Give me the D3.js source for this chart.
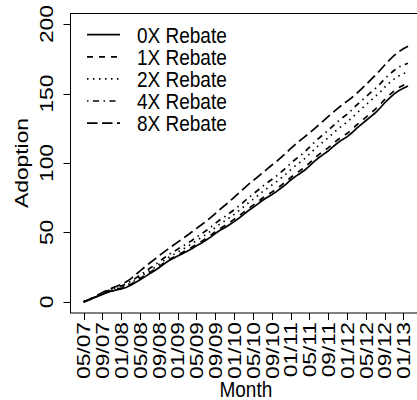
<!DOCTYPE html>
<html><head><meta charset="utf-8">
<script src="https://cdn.jsdelivr.net/npm/d3@7"></script>
<style>body{margin:0;background:#fff}svg{display:block}text{font-family:"Liberation Sans",Arial,sans-serif;fill:#000}</style>
</head><body>
<svg id="c" width="417" height="400"></svg>
<script>
const monthLabels = ["05/07","09/07","01/08","05/08","09/08","01/09","05/09","09/09","01/10","05/10","09/10","01/11","05/11","09/11","01/12","05/12","09/12","01/13"];
const seriesNames = ["0X Rebate","1X Rebate","2X Rebate","4X Rebate","8X Rebate"];
const yTicks = [0,50,100,150,200];
const rebate0 = [0,1.2,2.6,4.0,5.4,6.8,7.8,8.6,9.4,10.4,12.0,14.0,16.0,18.0,20.2,22.2,24.6,27.0,29.4,31.2,33.0,34.6,36.4,38.2,40.4,42.2,44.4,46.6,49.2,51.6,53.4,55.6,57.8,60.2,62.8,65.6,68.0,70.4,73.0,75.2,77.2,79.4,82.0,84.6,87.6,90.2,92.4,94.8,97.8,101.0,103.8,106.2,108.6,111.6,114.4,116.8,118.8,121.6,124.8,127.6,130.4,133.2,136.0,139.4,143.2,146.6,149.6,152.0,153.8,155.4];
const rebate1 = [0,1.3,2.7,4.2,5.6,7.0,8.1,9.0,9.9,11.0,12.6,14.6,16.8,18.9,21.0,23.1,25.4,27.9,30.2,32.0,33.9,35.6,37.4,39.3,41.5,43.4,45.6,47.9,50.5,52.8,54.8,57.1,59.4,61.8,64.4,67.1,69.5,72.0,74.6,76.9,79.0,81.2,83.9,86.5,89.4,92.1,94.4,96.9,99.9,103.1,106.0,108.4,110.9,113.8,116.6,119.0,121.2,124.0,127.2,130.0,132.9,135.7,138.6,141.9,145.6,148.9,151.8,154.2,156.0,157.6];
const rebate2 = [0,1.3,2.8,4.4,5.9,7.4,8.6,9.6,10.6,11.8,13.5,15.6,17.9,20.1,22.4,24.6,27.0,29.5,31.9,33.9,35.9,37.8,39.7,41.8,44.1,46.2,48.5,50.9,53.6,56.1,58.2,60.6,63.0,65.6,68.3,71.2,73.8,76.4,79.2,81.7,84.0,86.4,89.2,92.0,95.0,97.9,100.4,103.1,106.3,109.6,112.7,115.4,118.1,121.2,124.2,126.9,129.3,132.3,135.6,138.6,141.7,144.7,147.8,150.8,154.4,157.6,160.4,162.6,164.3,165.5];
const rebate4 = [0,1.4,3.0,4.7,6.3,7.9,9.2,10.3,11.5,12.9,14.7,16.9,19.3,21.6,24.0,26.3,28.8,31.4,33.8,35.9,38.0,40.0,42.0,44.2,46.6,48.8,51.2,53.7,56.5,59.1,61.3,63.8,66.3,69.0,71.8,74.8,77.5,80.2,83.1,85.7,88.1,90.6,93.5,96.4,99.5,102.5,105.1,107.9,111.2,114.6,117.8,120.6,123.4,126.6,129.7,132.5,135.0,138.1,141.5,144.6,147.6,150.6,153.5,156.8,160.4,163.6,166.6,169.0,170.6,171.8];
const rebate8 = [0,1.5,3.2,5.0,6.8,8.5,9.9,11.2,12.6,14.3,16.6,19.4,22.3,25.1,27.8,30.4,33.1,35.7,38.2,40.6,43.0,45.4,47.8,50.3,52.9,55.4,57.9,60.6,63.6,66.6,69.4,72.3,75.3,78.4,81.4,84.4,87.2,89.9,92.7,95.6,98.4,101.1,104.0,107.1,110.3,113.3,116.1,118.8,121.5,124.4,127.4,130.4,133.4,136.3,139.2,141.9,144.4,147.0,149.9,153.0,156.3,159.6,163.0,166.6,170.4,174.0,177.3,180.0,182.2,184.0];

const series = [rebate0, rebate1, rebate2, rebate4, rebate8];
const dashes = [null, "6,6", "1.5,4.5", "1.5,4.5,6,4.5", "10.5,4.5"];

const svg = d3.select("#c");
const FS = 19;
const SY = 1.2; // vertical stretch of the text in the reference
const nMonths = rebate0.length - 1;
const x = d3.scaleLinear().domain([-0.04*nMonths, nMonths*1.04]).range([70.7, 421]);
const y = d3.scaleLinear().domain([-8, 208]).range([313, 13]);

function txt(px, py, s, anchor, rot) {
  return svg.append("text")
    .attr("transform", `translate(${px},${py}) scale(1,${SY})` + (rot ? " rotate(-90)" : ""))
    .attr("text-anchor", anchor).style("font-size", FS+"px").text(s);
}

// box
svg.append("rect").attr("x", 70.5).attr("y", 13.5).attr("width", 351).attr("height", 299.5)
  .attr("fill","none").attr("stroke","#000").attr("stroke-width",1);

// y axis
yTicks.forEach(v => {
  const yy = Math.round(y(v)) + 0.5;
  svg.append("line").attr("x1",63.5).attr("x2",70.5).attr("y1",yy).attr("y2",yy).attr("stroke","#000");
  txt(53, y(v), v, "middle", true);
});

// x axis
monthLabels.forEach((lab,i) => {
  const m = i*4;
  const xx = Math.round(x(m)) + 0.5;
  svg.append("line").attr("x1",xx).attr("x2",xx).attr("y1",313).attr("y2",320).attr("stroke","#000");
  txt(x(m)+6.8, 322, lab, "end", true);
});

txt(x((nMonths*1.04 - 0.04*nMonths)/2), 396.5, "Month", "middle", false);
txt(28, (13+313)/2, "Adoption", "middle", true);

// lines
const line = d3.line().x((d,i)=>x(i)).y(d=>y(d));
series.forEach((s,k) => {
  svg.append("path").attr("d", line(s)).attr("fill","none").attr("stroke","#000")
    .attr("stroke-width",1.7).attr("stroke-dasharray", dashes[k]);
});

// legend
seriesNames.forEach((name,k) => {
  const yy = 34.7 + k*22.1;
  svg.append("line").attr("x1",87).attr("x2",120).attr("y1",yy).attr("y2",yy)
    .attr("stroke","#000").attr("stroke-width",1.7).attr("stroke-dasharray", dashes[k]);
  txt(137, yy + 6.8*SY, name, "start", false);
});
</script>
</body></html>
